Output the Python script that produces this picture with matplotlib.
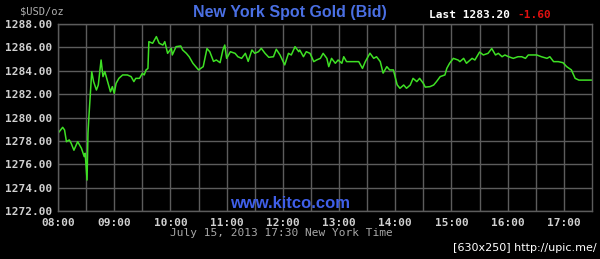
import matplotlib
matplotlib.use("Agg")
import matplotlib.pyplot as plt
import pandas as pd

# bid quotes, New York time
times = [
    "08:00", "08:05", "08:07", "08:09", "08:12", "08:14", "08:17", "08:21", "08:25", "08:28",
    "08:29", "08:31", "08:32", "08:33", "08:36", "08:38", "08:41", "08:43", "08:46", "08:48",
    "08:50", "08:53", "08:56", "08:58", "09:00", "09:02", "09:05", "09:09", "09:14", "09:18",
    "09:21", "09:23", "09:27", "09:30", "09:32", "09:34", "09:36", "09:37", "09:41", "09:45",
    "09:48", "09:52", "09:54", "09:57", "10:01", "10:02", "10:06", "10:11", "10:13", "10:17",
    "10:20", "10:24", "10:30", "10:35", "10:39", "10:42", "10:46", "10:49", "10:53", "10:56",
    "10:58", "11:00", "11:04", "11:09", "11:12", "11:16", "11:20", "11:23", "11:27", "11:30",
    "11:34", "11:37", "11:41", "11:45", "11:50", "11:53", "11:57", "12:02", "12:06", "12:09",
    "12:13", "12:17", "12:18", "12:22", "12:25", "12:29", "12:33", "12:36", "12:40", "12:43",
    "12:47", "12:49", "12:52", "12:56", "12:59", "13:03", "13:05", "13:08", "13:14", "13:21",
    "13:25", "13:28", "13:33", "13:37", "13:40", "13:44", "13:47", "13:51", "13:54", "13:58",
    "14:02", "14:05", "14:09", "14:12", "14:16", "14:19", "14:23", "14:26", "14:30", "14:32",
    "14:37", "14:41", "14:44", "14:48", "14:53", "14:55", "14:58", "15:02", "15:07", "15:09",
    "15:13", "15:16", "15:22", "15:25", "15:30", "15:34", "15:39", "15:43", "15:47", "15:50",
    "15:54", "15:57", "16:01", "16:06", "16:11", "16:15", "16:19", "16:22", "16:31", "16:36",
    "16:42", "16:45", "16:49", "16:54", "16:59", "17:03", "17:08", "17:12", "17:16", "17:30",
]
bids = [
    1278.65, 1279.16, 1278.93, 1277.93, 1278.08, 1277.80, 1277.20, 1277.93, 1277.37, 1276.65,
    1276.94, 1274.65, 1278.65, 1280.07, 1283.92, 1283.07, 1282.35, 1282.78, 1284.92, 1283.50,
    1283.92, 1283.07, 1282.20, 1282.64, 1282.07, 1282.92, 1283.35, 1283.64, 1283.64, 1283.50,
    1283.07, 1283.35, 1283.35, 1283.78, 1283.64, 1284.07, 1284.20, 1286.49, 1286.35, 1286.92,
    1286.35, 1286.20, 1286.49, 1285.49, 1285.92, 1285.35, 1286.06, 1286.12, 1285.78, 1285.49,
    1285.20, 1284.64, 1284.07, 1284.35, 1285.90, 1285.63, 1284.80, 1284.92, 1284.69, 1285.78,
    1286.20, 1285.06, 1285.63, 1285.49, 1285.20, 1285.06, 1285.49, 1284.80, 1285.78, 1285.49,
    1285.63, 1285.92, 1285.49, 1285.15, 1285.20, 1285.84, 1285.35, 1284.50, 1285.49, 1285.35,
    1286.06, 1285.63, 1285.78, 1285.20, 1285.63, 1285.49, 1284.78, 1284.92, 1285.06, 1285.49,
    1285.06, 1284.35, 1285.06, 1284.64, 1284.92, 1284.64, 1285.20, 1284.78, 1284.78, 1284.78,
    1284.20, 1284.78, 1285.50, 1285.06, 1285.20, 1284.78, 1283.80, 1284.35, 1284.07, 1284.07,
    1282.80, 1282.50, 1282.78, 1282.50, 1282.78, 1283.35, 1283.07, 1283.35, 1282.92, 1282.60,
    1282.64, 1282.78, 1283.07, 1283.50, 1283.64, 1284.20, 1284.64, 1285.06, 1284.92, 1284.78,
    1285.06, 1284.64, 1285.06, 1284.92, 1285.60, 1285.35, 1285.49, 1285.90, 1285.35, 1285.49,
    1285.20, 1285.35, 1285.20, 1285.06, 1285.20, 1285.20, 1285.06, 1285.35, 1285.35, 1285.20,
    1285.06, 1285.20, 1284.78, 1284.78, 1284.69, 1284.35, 1284.07, 1283.35, 1283.20, 1283.20,
]
y_ticks = [1272, 1274, 1276, 1278, 1280, 1282, 1284, 1286, 1288]
x_ticks = ["08:00", "09:00", "10:00", "11:00", "12:00", "13:00", "14:00", "15:00", "16:00", "17:00"]
last_bid = "1283.20"
change = "-1.60"

MONO = "DejaVu Sans Mono"
GRID = "#5c5c5c"
LABEL = "#d0d0d0"


def to_hours(hhmm):
    h, m = hhmm.split(":")
    return int(h) + int(m) / 60.0


df = pd.DataFrame({"t": [to_hours(t) for t in times], "bid": bids})

fig = plt.figure(figsize=(6.0, 2.59), dpi=100, facecolor="black")
ax = fig.add_axes([58 / 600, 1 - 211 / 259, 534 / 600, 187 / 259])
ax.set_facecolor("black")

ax.plot(df["t"], df["bid"], color="#3ee024", lw=1.1, solid_joinstyle="round")

ax.set_xlim(8, 17.5)
ax.set_ylim(1272, 1288)
ax.set_yticks(y_ticks)
ax.set_yticklabels([f"{v:.2f}" for v in y_ticks])
ax.set_xticks([to_hours(t) for t in x_ticks])
ax.set_xticklabels(x_ticks)
# half-hour grid
ax.set_xticks([h + 0.5 for h in range(8, 17)], minor=True)
ax.grid(True, which="both", color=GRID, lw=1.0)
ax.tick_params(which="both", length=0, colors=LABEL, labelsize=8)
ax.tick_params(axis="x", pad=5)
ax.tick_params(axis="y", pad=4)
for lab in ax.get_xticklabels() + ax.get_yticklabels():
    lab.set_fontfamily(MONO)
    lab.set_fontweight("bold")
for s in ax.spines.values():
    s.set_color(GRID)
    s.set_linewidth(1.0)

fig.text(290 / 600, 1 - 12 / 259, "New York Spot Gold (Bid)", ha="center", va="center",
         color="#4a6fe3", fontsize=11.5, fontweight="bold", family="Liberation Sans")
fig.text(20 / 600, 1 - 11 / 259, "$USD/oz", ha="left", va="center",
         color="#b0b0b0", fontsize=7.5, family=MONO)
fig.text(429 / 600, 1 - 15 / 259, "Last " + last_bid, ha="left", va="center",
         color="white", fontsize=8, fontweight="bold", family=MONO)
fig.text(517 / 600, 1 - 15 / 259, change, ha="left", va="center",
         color="#e01010", fontsize=8, fontweight="bold", family=MONO)
fig.text(290 / 600, 1 - 203 / 259, "www.kitco.com", ha="center", va="center",
         color="#3f5fe8", fontsize=12, fontweight="bold", family="Liberation Sans")
fig.text(281 / 600, 1 - 233 / 259, "July 15, 2013 17:30 New York Time", ha="center",
         va="center", color="#a8a8a8", fontsize=8, family=MONO)
fig.text(597 / 600, 1 - 248 / 259, "[630x250] http://upic.me/", ha="right", va="center",
         color="white", fontsize=8, family="DejaVu Sans")

fig.savefig("out.png", dpi=100, facecolor="black")
